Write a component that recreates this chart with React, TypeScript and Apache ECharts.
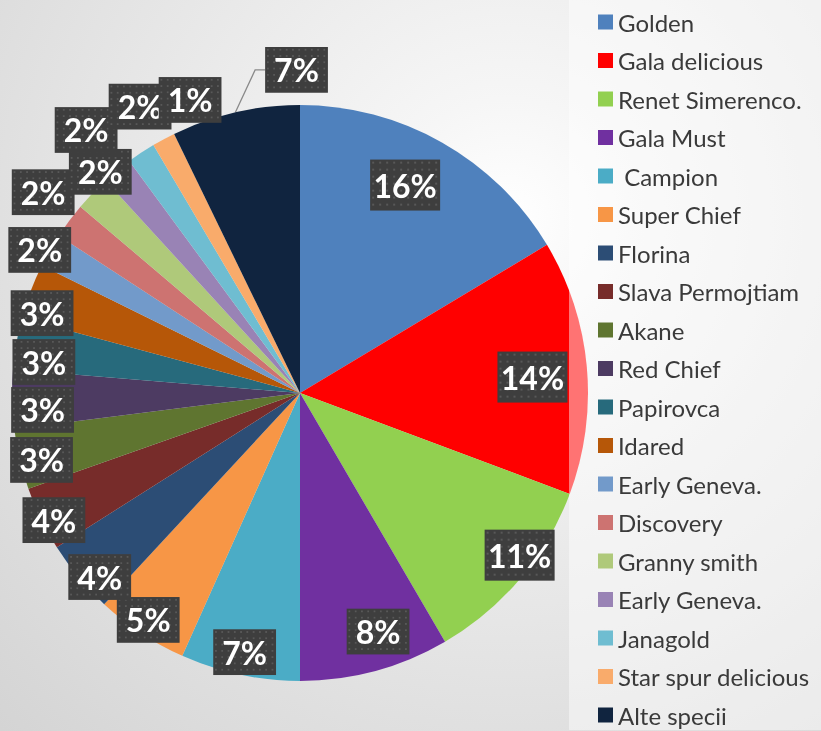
import React, { useEffect, useRef } from "react";
import * as echarts from "echarts";

const CATEGORIES = [
  "Golden",
  "Gala delicious",
  "Renet Simerenco.",
  "Gala Must",
  " Campion",
  "Super Chief",
  "Florina",
  "Slava Permojtiam",
  "Akane",
  "Red Chief",
  "Papirovca",
  "Idared",
  "Early Geneva.",
  "Discovery",
  "Granny smith",
  "Early Geneva. ",
  "Janagold",
  "Star spur delicious",
  "Alte specii",
];

const VALUES = [16.4, 14.3, 10.9, 8.4, 6.7, 5.2, 4.1, 3.6, 3.4, 3.3, 2.9, 3.1, 1.9, 2.0, 2.0, 1.7, 1.6, 1.3, 7.2];

const COLORS = [
  "#4f81bd", "#ff0000", "#92d050", "#7030a0", "#4bacc6", "#f79646", "#2c4d75",
  "#772c2a", "#5f7530", "#4d3b62", "#276a7c", "#b65708", "#729aca", "#cd7371",
  "#afc97a", "#9983b5", "#6fbdd1", "#f9ab6b", "#10243f",
];

// label placement (Excel "best fit" look): radius in px and angular nudge in degrees
const LABEL_RADIUS = [233, 233, 273, 251, 265, 273, 272, 277, 267, 258, 258, 270, 297, 326, 298, 339, 328, 313, 325];
const LABEL_SHIFT = [-2.7, 1.3, -3.7, -3, 0, 0.3, -2.8, -1.4, -1.2, -2.5, -3, -3.5, -0.9, 1.3, 4, 0.3, 4.3, 7.7, 6.8];

const CX = 300;
const CY = 393;
const R = 288;

function makePattern(): string {
  const c = document.createElement("canvas");
  c.width = 70;
  c.height = 51;
  const ctx = c.getContext("2d");
  if (!ctx) return "";
  ctx.fillStyle = "#3e3e3e";
  ctx.fillRect(0, 0, 70, 51);
  ctx.fillStyle = "#585858";
  for (let y = 2; y < 51; y += 7) {
    for (let x = 2; x < 70; x += 7) {
      ctx.fillRect(x, y, 2, 2);
    }
  }
  return c.toDataURL();
}

export default function App() {
  const ref = useRef<HTMLDivElement>(null);

  useEffect(() => {
    if (!ref.current) return;
    const chart = echarts.init(ref.current, null, { renderer: "svg" });
    const pattern = makePattern();
    const total = VALUES.reduce((a, b) => a + b, 0);
    const mids: number[] = [];
    let acc = 0;
    VALUES.forEach((v) => {
      mids.push(acc + v / 2);
      acc += v;
    });

    const data = CATEGORIES.map((name, i) => {
      const item: any = { name, value: VALUES[i], itemStyle: { color: COLORS[i] } };
      if (i === CATEGORIES.length - 1) {
        item.label = { position: "outside" };
        item.labelLine = { show: true, length: 10, length2: 10, lineStyle: { color: "#8a8a8a", width: 1.3 } };
      }
      return item;
    });

    chart.setOption({
      animation: false,
      backgroundColor: "transparent",
      legend: {
        orient: "vertical",
        left: 569,
        top: 0,
        padding: [10, 30, 3, 29],
        backgroundColor: "rgba(255,255,255,0.45)",
        itemWidth: 15,
        itemHeight: 15,
        itemGap: 14.5,
        icon: "rect",
        selectedMode: false,
        textStyle: {
          fontFamily: "Lato",
          fontSize: 24,
          color: "#3a3a3a",
          lineHeight: 24,
        },
        data: CATEGORIES,
      },
      series: [
        {
          type: "pie",
          center: [CX, CY],
          radius: R,
          startAngle: 90,
          clockwise: true,
          avoidLabelOverlap: false,
          itemStyle: { borderWidth: 0 },
          label: {
            show: true,
            position: "inside",
            formatter: (p: any) => Math.round(p.percent) + "%",
            fontFamily: "Lato",
            fontWeight: "bold",
            fontSize: 32,
            lineHeight: 33,
            color: "#ffffff",
            padding: [9, 9, 9, 9],
            backgroundColor: pattern ? { image: pattern } : "#3e3e3e",
            shadowColor: "rgba(0,0,0,0.55)",
            shadowBlur: 6,
            shadowOffsetX: 3,
            shadowOffsetY: 3,
          },
          labelLine: { show: false },
          labelLayout: (p: any) => {
            const i = p.dataIndex;
            const ang = ((mids[i] / total) * 360 + LABEL_SHIFT[i]) * Math.PI / 180;
            const r = LABEL_RADIUS[i];
            let x = CX + r * Math.sin(ang);
            let y = CY - r * Math.cos(ang);
            const w = p.labelRect.width;
            const h = p.labelRect.height;
            if (p.align === "right") x += w / 2;
            else if (p.align === "left") x -= w / 2;
            if (p.verticalAlign === "top") y -= h / 2;
            else if (p.verticalAlign === "bottom") y += h / 2;
            return { x, y };
          },
          data,
        },
      ],
    });

    return () => chart.dispose();
  }, []);

  return (
    <div
      ref={ref}
      style={{
        position: "fixed",
        left: 0,
        top: 0,
        width: 821,
        height: 731,
        background:
          "radial-gradient(circle 720px at 509px 219px, #ffffff 0px, #f6f6f6 120px, #d4d4d4 720px)",
      }}
    />
  );
}
